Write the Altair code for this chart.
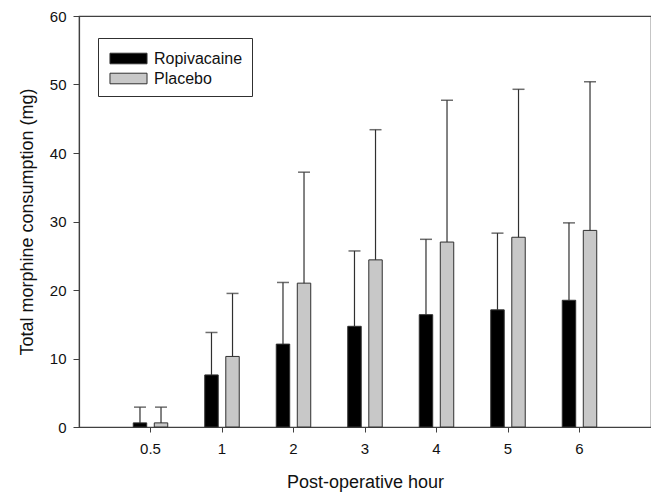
import altair as alt
import pandas as pd

hours = ["0.5", "1", "2", "3", "4", "5", "6"]
ropi_mean = [0.6, 7.6, 12.1, 14.7, 16.4, 17.1, 18.5]
ropi_upper = [2.9, 13.8, 21.1, 25.7, 27.4, 28.3, 29.8]
plac_mean = [0.6, 10.3, 21.0, 24.4, 27.0, 27.7, 28.7]
plac_upper = [2.9, 19.5, 37.2, 43.4, 47.7, 49.3, 50.4]
groups = ["Ropivacaine", "Placebo"]
colors = ["#000000", "#c8c8c8"]

rows = []
for i, h in enumerate(hours):
    rows.append({"hour": h, "group": groups[0], "mean": ropi_mean[i], "upper": ropi_upper[i]})
    rows.append({"hour": h, "group": groups[1], "mean": plac_mean[i], "upper": plac_upper[i]})
df = pd.DataFrame(rows)

FONT = "Liberation Sans"
AX = "#404040"

x = alt.X("hour:N", sort=hours, title="Post-operative hour",
          scale=alt.Scale(paddingInner=0, paddingOuter=0.5),
          axis=alt.Axis(labelAngle=0, tickSize=5, labelPadding=9,
                        titleBaseline="alphabetic", titleY=60))
xoff = alt.XOffset("group:N", sort=groups,
                   scale=alt.Scale(paddingInner=0.36, paddingOuter=0.88))
ysc = alt.Scale(domain=[0, 60], nice=False)

bars = alt.Chart(df).mark_bar(stroke="#303030", strokeWidth=1).encode(
    x=x, xOffset=xoff,
    y=alt.Y("mean:Q", scale=ysc, title="Total morphine consumption (mg)",
            axis=alt.Axis(values=[0, 10, 20, 30, 40, 50, 60], tickSize=6, grid=False,
                          labelPadding=7, titleBaseline="middle", titleX=-52)),
    fill=alt.Color("group:N", sort=groups,
                   scale=alt.Scale(domain=groups, range=colors),
                   legend=alt.Legend(title=None, orient="none", legendX=19, legendY=22,
                                     symbolType="M-1.75,-0.5H1.75V0.5H-1.75Z", symbolSize=448,
                                     symbolStrokeColor="#303030", symbolStrokeWidth=1,
                                     symbolOffset=10,
                                     labelFontSize=16, labelFont=FONT, labelColor="#111",
                                     strokeColor="#303030", padding=9, rowPadding=0,
                                     labelOffset=14, labelLimit=200)),
)

rules = alt.Chart(df).mark_rule(color="#303030", strokeWidth=1.2).encode(
    x=x, xOffset=xoff, y=alt.Y("mean:Q", scale=ysc), y2="upper:Q")

caps = alt.Chart(df).mark_tick(color="#303030", size=12, thickness=1.5, orient="horizontal").encode(
    x=x, xOffset=xoff, y=alt.Y("upper:Q", scale=ysc))

chart = alt.layer(bars, rules, caps).properties(
    width=572, height=411,
    autosize=alt.AutoSizeParams(type="none"),
    padding={"left": 71, "top": 8, "right": 0, "bottom": 66},
).configure_view(
    stroke=AX, strokeWidth=1.2
).configure_axis(
    domainColor=AX, tickColor=AX, labelFont=FONT, titleFont=FONT,
    labelFontSize=15, titleFontSize=18, labelColor="#111", titleColor="#111",
    titleFontWeight="normal", domainWidth=1.2
)

chart.save("out.html", embed_options={"renderer": "svg", "actions": False})
